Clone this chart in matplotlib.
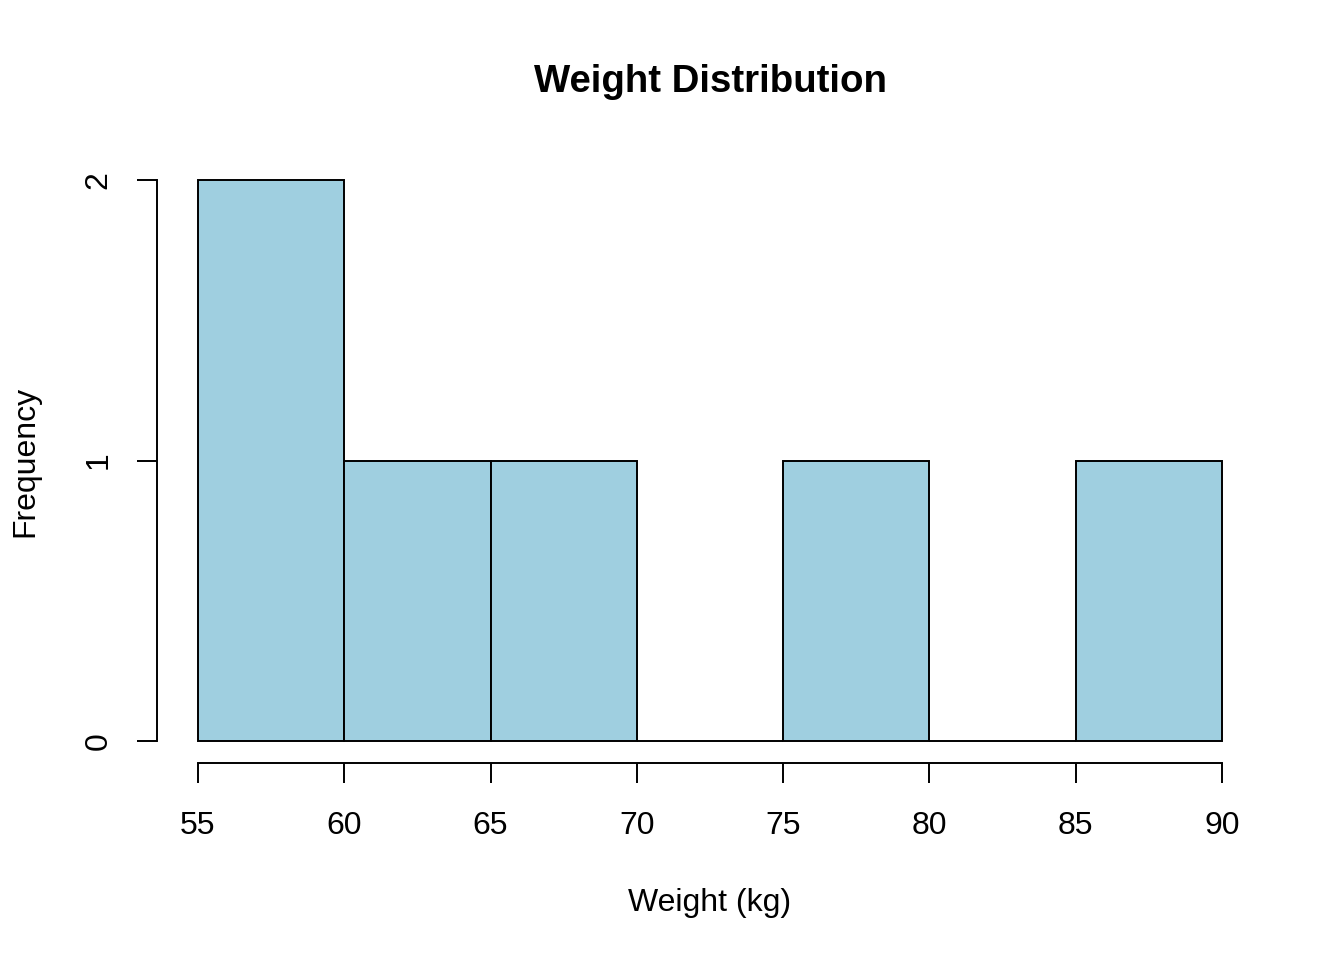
import numpy as np
import matplotlib.pyplot as plt

plt.rcParams['font.family'] = ['Liberation Sans', 'DejaVu Sans']

# histogram bins (kg) and counts
bin_edges = [55, 60, 65, 70, 75, 80, 85, 90]
counts = [2, 1, 1, 0, 1, 0, 1]
x_ticks = [55, 60, 65, 70, 75, 80, 85, 90]
y_ticks = [0, 1, 2]

fig = plt.figure(figsize=(13.44, 9.6), dpi=100)
ax = fig.add_axes([157 / 1344, 1 - 763.4 / 960, (1263 - 157) / 1344, (763.4 - 157.6) / 960])

edges = np.array(bin_edges, dtype=float)
ax.bar(edges[:-1], counts, width=np.diff(edges), align='edge',
       color='#9fcfe0', edgecolor='black', linewidth=1.4)

ax.set_xlim(55 - 0.04 * 35, 90 + 0.04 * 35)
ax.set_ylim(-0.08, 2.08)

for s in ['top', 'right']:
    ax.spines[s].set_visible(False)
ax.spines['left'].set_bounds(0, 2)
ax.spines['bottom'].set_bounds(55, 90)
for s in ['left', 'bottom']:
    ax.spines[s].set_linewidth(1.4)

ax.set_xticks(x_ticks)
ax.set_yticks(y_ticks)
ax.tick_params(axis='both', direction='out', length=14.4, width=1.4, labelsize=23)
ax.tick_params(axis='x', pad=20)
ax.tick_params(axis='y', pad=17)
for lab in ax.get_yticklabels():
    lab.set_rotation(90)
    lab.set_va('center')

fig.text(710 / 1344, 1 - 82 / 960, 'Weight Distribution', fontsize=27.6,
         fontweight='bold', ha='center', va='center')
fig.text(710 / 1344, 1 - 903 / 960, 'Weight (kg)', fontsize=23,
         ha='center', va='center')
fig.text(25 / 1344, 1 - 461 / 960, 'Frequency', fontsize=23,
         ha='center', va='center', rotation=90)

plt.savefig('out.png', dpi=100)
